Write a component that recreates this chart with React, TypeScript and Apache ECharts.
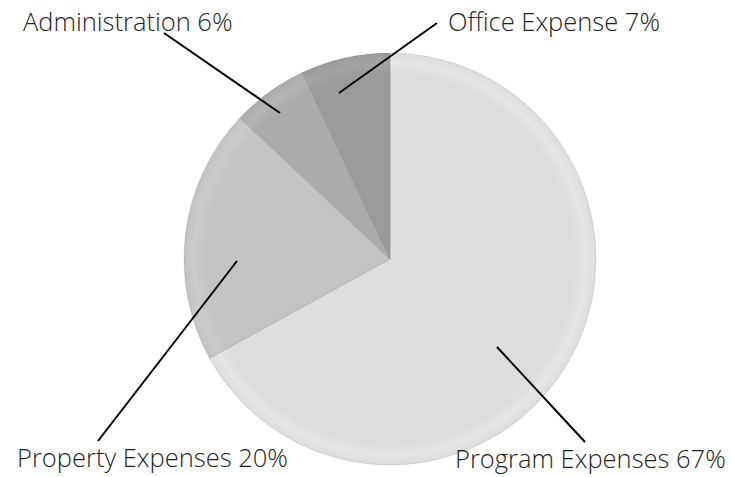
import React, { useEffect, useRef } from "react";
import * as echarts from "echarts";

const categories = ["Program Expenses", "Property Expenses", "Administration", "Office Expense"];
const percentages = [67, 20, 6, 7];
const sliceColors = ["#dddddd", "#c3c3c3", "#ababab", "#9b9b9b"];
const rimColors = ["#e6e6e6", "#cbcbcb", "#b4b4b4", "#a4a4a4"];

// label anchor placement (layout only)
const labelPlacement = [
  { x: 455, y: 458, line: [[497, 347], [585, 442]] },
  { x: 17, y: 457, line: [[237, 261], [98, 441]] },
  { x: 23, y: 21, line: [[280, 113], [164, 33]] },
  { x: 448, y: 21, line: [[339, 93], [437, 23]] },
];

const CENTER = [390, 259];
const RADIUS = 206;

export default function App() {
  const ref = useRef<HTMLDivElement>(null);
  useEffect(() => {
    if (!ref.current) return;
    const chart = echarts.init(ref.current, undefined, { renderer: "svg" });
    const data = categories.map((name, i) => ({
      name,
      value: percentages[i],
      itemStyle: {
        color: new echarts.graphic.RadialGradient(
          CENTER[0],
          CENTER[1],
          RADIUS,
          [
            { offset: 0, color: sliceColors[i] },
            { offset: 0.9, color: sliceColors[i] },
            { offset: 0.95, color: rimColors[i] },
            { offset: 1, color: sliceColors[i] },
          ],
          true
        ),
      },
    }));
    chart.setOption({
      animation: false,
      backgroundColor: "#ffffff",
      series: [
        {
          type: "pie",
          z: 2,
          center: CENTER,
          radius: RADIUS,
          startAngle: 90,
          clockwise: true,
          data,
          itemStyle: { borderColor: "rgba(0,0,0,0.10)", borderWidth: 1 },
          emphasis: { disabled: true },
          label: { show: false },
          labelLine: { show: false },
        },
        {
          type: "pie",
          z: 5,
          center: CENTER,
          radius: RADIUS,
          startAngle: 90,
          clockwise: true,
          data: data.map((d) => ({ ...d, itemStyle: { color: "rgba(0,0,0,0)" } })),
          emphasis: { disabled: true },
          silent: true,
          label: {
            show: true,
            overflow: "none",
            formatter: (p: any) => `${p.name} ${p.value}%`,
            fontFamily: "Open Sans",
            fontWeight: 300,
            fontSize: 25.5,
            color: "#1f1f1f",
          },
          labelLine: { show: true, lineStyle: { color: "#000000", width: 2 } },
          labelLayout: (params: any) => {
            const lp = labelPlacement[params.dataIndex];
            return {
              x: lp.x,
              y: lp.y,
              align: "left",
              verticalAlign: "middle",
              labelLinePoints: [lp.line[0], lp.line[0], lp.line[1]],
            };
          },
        },
      ],
    });
    return () => chart.dispose();
  }, []);
  return (
    <div
      ref={ref}
      style={{ position: "fixed", left: 0, top: 0, width: 733, height: 477 }}
    />
  );
}
